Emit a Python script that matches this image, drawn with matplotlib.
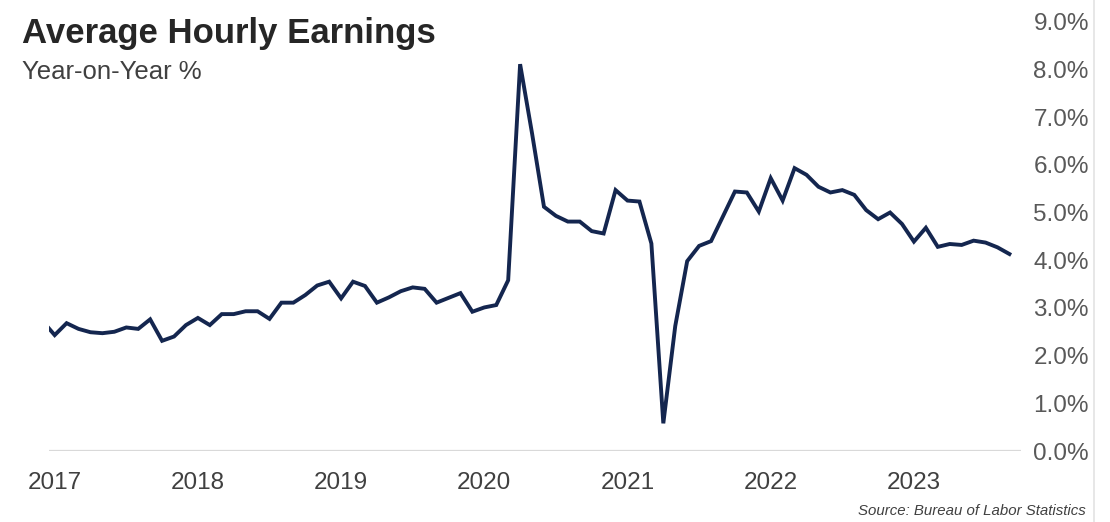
import matplotlib
matplotlib.use('Agg')
import matplotlib.pyplot as plt
from matplotlib.lines import Line2D
from matplotlib.ticker import FuncFormatter

plt.rcParams['font.family'] = ['Liberation Sans', 'DejaVu Sans']

# monthly YoY % from Dec 2016 (first point is cut off by the axis) to Sep 2023
start_month = -1   # months relative to Jan 2017
ahe_yoy = [2.72,
           2.43, 2.68, 2.56, 2.49, 2.47, 2.50, 2.59, 2.56, 2.76, 2.31, 2.40, 2.64,
           2.79, 2.64, 2.87, 2.87, 2.93, 2.93, 2.77, 3.11, 3.11, 3.27, 3.47, 3.55,
           3.20, 3.55, 3.46, 3.11, 3.22, 3.35, 3.43, 3.40, 3.11, 3.21, 3.31, 2.92,
           3.01, 3.06, 3.58, 8.11, 6.66, 5.12, 4.93, 4.81, 4.81, 4.61, 4.56, 5.47,
           5.25, 5.23, 4.35, 0.58, 2.62, 3.98, 4.30, 4.40, 4.92, 5.44, 5.42, 5.02,
           5.72, 5.25, 5.93, 5.79, 5.54, 5.42, 5.47, 5.37, 5.05, 4.86, 5.00, 4.76,
           4.39, 4.68, 4.28, 4.34, 4.32, 4.41, 4.37, 4.27, 4.13]
years = [2017, 2018, 2019, 2020, 2021, 2022, 2023]
y_ticks = [0, 1, 2, 3, 4, 5, 6, 7, 8, 9]

months = [start_month + i for i in range(len(ahe_yoy))]

fig = plt.figure(figsize=(11.1, 5.22), dpi=100)
ax = fig.add_axes([0.0441, 0.1360, 0.8757, 0.8224])

ax.axhline(0, color='#d9d9d9', lw=1.6, zorder=1)
ax.plot(months, ahe_yoy, color='#14264f', lw=2.8, solid_joinstyle='miter', zorder=3)

ax.set_xlim(-0.48, 80.97)
ax.set_ylim(0, 9)

ax.set_xticks([(y - 2017) * 12 for y in years])
ax.set_xticklabels([str(y) for y in years])
ax.set_yticks(y_ticks)
ax.yaxis.set_major_formatter(FuncFormatter(lambda v, p: '%.1f%%' % v))
ax.yaxis.tick_right()

ax.tick_params(axis='x', length=0, pad=15, labelsize=17.5, labelcolor='#404040')
ax.tick_params(axis='y', length=0, pad=9, labelsize=17.5, labelcolor='#595959')
for s in ax.spines.values():
    s.set_visible(False)

fig.text(0.0196, 0.918, 'Average Hourly Earnings', fontsize=25, fontweight='bold',
         color='#262626')
fig.text(0.0196, 0.849, 'Year-on-Year %', fontsize=18.5, color='#404040')
fig.text(0.978, 0.008, 'Source: Bureau of Labor Statistics', fontsize=10.8,
         style='italic', color='#404040', ha='right', va='bottom',
         family=['Liberation Sans Narrow', 'Liberation Sans', 'DejaVu Sans'])

fig.add_artist(Line2D([1094 / 1110] * 2, [0, 1], color='#e3e3e3', lw=1.2))

fig.savefig('out.png', dpi=100)
